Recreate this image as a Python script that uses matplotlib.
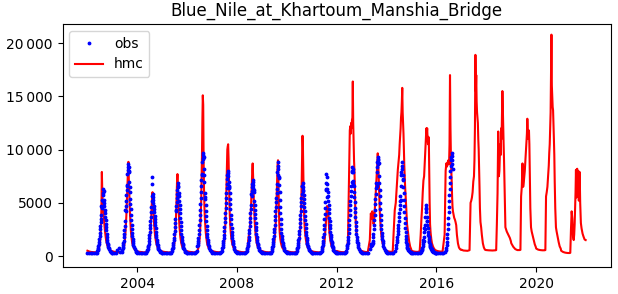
import numpy as np
import matplotlib
matplotlib.use("Agg")
import matplotlib.pyplot as plt
from matplotlib.ticker import FuncFormatter

nan = np.nan

# ---------------- data (discharge, m3/s) ----------------
# hmc simulated flow, sampled on these days of year
hmc_doy = [1, 30, 60, 90, 120, 135, 145, 155, 165, 175, 185, 192, 199, 206, 212, 218,
           224, 230, 236, 242, 248, 254, 260, 266, 272, 280, 290, 300, 315, 330, 345, 360]
hmc_years = list(range(2002, 2022))
hmc_2002 = [500, 420, 380, 360, 350, 380, 420, 500, 650, 900, 1300, 1800, 2600, 4500, 7900, 6200, 5000, 4500, 4000, 3500, 3000, 2600, 2200, 1900, 1600, 1300, 1050, 850, 650, 550, 500, 460]
hmc_2003 = [450, 400, 370, 350, 360, 400, 450, 550, 700, 1000, 1500, 2100, 2900, 3800, 4800, 5800, 7000, 8200, 8850, 7200, 6000, 4800, 3800, 3000, 2400, 1800, 1300, 1000, 750, 600, 520, 480]
hmc_2004 = [450, 400, 370, 350, 350, 380, 430, 520, 700, 950, 1400, 2000, 2800, 3800, 4800, 5600, 6000, 5200, 4300, 3500, 2900, 2400, 2000, 1700, 1450, 1200, 950, 800, 650, 550, 500, 460]
hmc_2005 = [430, 390, 360, 340, 340, 370, 420, 520, 700, 1000, 1500, 2200, 3100, 4300, 5800, 7000, 7700, 6400, 5200, 4200, 3400, 2700, 2200, 1800, 1500, 1200, 950, 800, 650, 560, 500, 470]
hmc_2006 = [460, 400, 370, 350, 360, 400, 460, 560, 750, 1100, 1700, 2500, 3600, 5000, 7000, 9500, 12800, 15100, 14200, 9000, 6200, 4600, 3600, 2900, 2300, 1800, 1300, 1000, 760, 620, 540, 500]
hmc_2007 = [480, 420, 380, 360, 360, 400, 460, 560, 760, 1100, 1700, 2500, 3600, 5000, 6800, 8500, 10000, 10300, 10500, 9200, 7000, 5200, 3900, 3000, 2400, 1800, 1350, 1050, 780, 640, 550, 500]
hmc_2008 = [480, 420, 380, 360, 360, 400, 460, 600, 1500, 2000, 2400, 2900, 3600, 4600, 5800, 7000, 8000, 8700, 7600, 6200, 5000, 4000, 3200, 2600, 2100, 1600, 1200, 950, 720, 600, 530, 490]
hmc_2009 = [470, 410, 370, 350, 350, 390, 440, 540, 720, 1000, 1400, 1900, 2600, 3500, 4600, 6000, 7500, 8600, 9000, 7200, 4800, 3200, 2300, 1800, 1500, 1200, 950, 780, 640, 550, 500, 460]
hmc_2010 = [470, 410, 370, 350, 350, 390, 440, 540, 720, 1000, 1400, 2000, 2800, 3800, 5200, 7000, 9500, 11300, 10200, 7400, 5200, 3800, 2900, 2300, 1900, 1500, 1150, 900, 700, 580, 510, 470]
hmc_2011 = [460, 400, 370, 350, 350, 380, 430, 520, 680, 900, 1250, 1700, 2300, 3000, 3700, 4300, 4700, 4400, 4600, 3900, 3200, 2600, 2100, 1750, 1450, 1200, 950, 780, 640, 540, 490, 460]
hmc_2012 = [480, 420, 380, 360, 370, 400, 500, 800, 1500, 5000, 9000, 11800, 12200, 11500, 12500, 12000, 12800, 13000, 16400, 12500, 10500, 9000, 8000, 6500, 4500, 3000, 2200, 1600, 1000, 700, 560, 500]
hmc_2013 = [480, 420, 380, 370, 1500, 4000, 3500, 4200, 3800, 3000, 3500, 4200, 5000, 5800, 6500, 7300, 8000, 8800, 9650, 9000, 7800, 6500, 5200, 4200, 3400, 2600, 1900, 1400, 1000, 750, 600, 520]
hmc_2014 = [500, 430, 400, 400, 4300, 5000, 6000, 7000, 8100, 8800, 9500, 10500, 11200, 12000, 13000, 13500, 14500, 15800, 13500, 12500, 11500, 10000, 8500, 7500, 6500, 5600, 4200, 3000, 2200, 1400, 900, 650]
hmc_2015 = [500, 430, 400, 390, 450, 2000, 3400, 4500, 6000, 7100, 7500, 8500, 9500, 10500, 11500, 12000, 11500, 12000, 11000, 10500, 11200, 10900, 8000, 5000, 3000, 2200, 1600, 1200, 900, 700, 580, 520]
hmc_2016 = [500, 450, 420, 420, 2000, 8000, 8700, 8400, 8800, 9000, 8600, 10500, 17000, 12000, 9500, 8000, 7000, 5500, 4600, 4200, 4000, 3800, 3600, 3500, 3400, 3200, 2900, 2000, 1200, 800, 650, 580]
hmc_2017 = [600, 520, 500, 490, 550, 5000, 5200, 5500, 6000, 7000, 7500, 9000, 12000, 18900, 15500, 17000, 14500, 13500, 13000, 12500, 11000, 10000, 8400, 6500, 4500, 3200, 2700, 2000, 1200, 800, 600, 560]
hmc_2018 = [560, 540, 530, 520, 530, 540, 560, 3000, 5900, 11700, 7500, 8000, 9500, 10500, 9500, 12000, 11000, 13500, 15500, 14000, 12000, 10500, 9000, 7000, 4500, 2700, 2500, 2300, 2100, 1900, 1700, 1400]
hmc_2019 = [1200, 870, 650, 560, 560, 580, 5600, 6500, 8700, 6500, 7000, 7500, 8000, 8800, 9500, 10000, 10800, 11500, 12900, 12000, 11000, 11500, 11800, 10500, 8000, 4500, 2700, 2300, 1900, 1500, 1100, 850]
hmc_2020 = [700, 600, 560, 540, 540, 560, 5600, 6000, 6500, 7500, 8500, 9700, 10500, 12000, 13500, 17000, 20800, 16000, 15000, 14000, 13700, 12500, 11000, 9500, 7000, 4500, 2700, 2300, 1800, 1300, 900, 700]
hmc_2021 = [500, 380, 320, 290, 280, 300, 2500, 4200, 3500, 1800, 1500, 2000, 3000, 4500, 6000, 8100, 5500, 7800, 8200, 6000, 7900, 8000, 5200, 7500, 7900, 5000, 3100, 2600, 2100, 1800, 1550, 1500]
hmc_rows = [hmc_2002, hmc_2003, hmc_2004, hmc_2005, hmc_2006, hmc_2007, hmc_2008,
            hmc_2009, hmc_2010, hmc_2011, hmc_2012, hmc_2013, hmc_2014, hmc_2015,
            hmc_2016, hmc_2017, hmc_2018, hmc_2019, hmc_2020, hmc_2021]

# observed flow, sampled on these days of year
obs_doy = [1, 25, 50, 75, 100, 120, 135, 143,
           150, 154, 158, 162, 166, 170, 174, 178, 182, 186, 190, 194, 198, 202, 206, 210,
           214, 218, 222, 226, 230, 234, 238, 242, 246, 250, 254, 258, 262, 266, 270, 274,
           278, 282, 286, 290, 294, 298, 302, 306, 310,
           318, 328, 340, 352, 362]
obs_years = list(range(2002, 2017))
obs_2002 = [300, 280, 260, 250, 240, 250, 330, 450,
            600, 700, 800, 950, 1100, 1350, 1600, 1900, 2200, 2500, 2800, 3200, 3500, 3900, 4700, 4600, 4500, 5300, 5700, 5200, 6300, 5900, 6100, 5300, 5000, 4700, 4300, 4000, 3700, 3400, 3000, 2700, 2400, 2100, 1800, 1550, 1350, 1150, 1000, 870, 760,
            620, 480, 400, 350, 330]
obs_2003 = [320, 300, 280, 600, 800, 350, 380, 550,
            750, 880, 1000, 1200, 1450, 1750, 2100, 2450, 2850, 3300, 4300, 4200, 4700, 5200, 5700, 6200, 6700, 6600, 7700, 8100, 8400, 8600, 8400, 8000, 7900, 7000, 6500, 6000, 5400, 4900, 4400, 3900, 3400, 2950, 2550, 2200, 1900, 1600, 1400, 1200, 1050,
            850, 650, 500, 400, 350]
obs_2004 = [320, 300, 280, 260, 250, 260, 330, 450,
            600, 700, 820, 980, 1150, 1400, 1650, 1950, 2250, 2600, 2950, 3300, 3700, 4100, 4600, 5200, 7450, 6800, 5600, 5800, 5500, 5300, 5000, 4700, 4400, 4100, 3800, 3500, 3200, 2900, 2600, 2300, 2000, 1750, 1500, 1300, 1150, 1000, 880, 780, 700,
            580, 470, 400, 350, 320]
obs_2005 = [300, 280, 260, 250, 240, 250, 320, 450,
            630, 750, 870, 1030, 1220, 1460, 1740, 2050, 2370, 2730, 3080, 3480, 4300, 4270, 4660, 5060, 5450, 5850, 6240, 6850, 6600, 6500, 5700, 5900, 5600, 5200, 4800, 4400, 4000, 3600, 3200, 2800, 2450, 2100, 1800, 1550, 1350, 1150, 1000, 870, 770,
            620, 490, 400, 350, 320]
obs_2006 = [320, 300, 280, 260, 250, 260, 340, 500,
            900, 1060, 1230, 1450, 1730, 2060, 2450, 2900, 3350, 3850, 4350, 4900, 5450, 6000, 6600, 7150, 7700, 7600, 8800, 9250, 9700, 9500, 9150, 9300, 8150, 7600, 7000, 5500, 5900, 5350, 4800, 4250, 3750, 3250, 2800, 2400, 2050, 1800, 1550, 1350, 1170,
            950, 720, 550, 430, 370]
obs_2007 = [330, 310, 290, 270, 260, 270, 350, 500,
            740, 870, 1010, 1200, 1430, 1700, 2020, 2390, 2760, 3170, 3590, 4050, 4510, 4970, 5430, 5890, 6350, 6810, 7270, 7640, 8000, 7800, 7500, 6600, 6500, 7000, 6400, 5900, 5400, 4900, 4400, 3900, 3450, 3000, 2600, 2250, 1950, 1700, 1450, 1250, 1100,
            880, 670, 510, 410, 360]
obs_2008 = [330, 310, 290, 270, 260, 270, 350, 480,
            660, 780, 900, 1070, 1270, 1520, 1800, 2130, 2460, 2830, 3200, 3610, 4020, 4430, 4840, 5800, 5660, 6070, 6480, 6800, 7100, 6950, 6700, 6400, 6000, 6200, 5200, 4750, 4350, 3950, 3550, 3100, 2750, 2400, 2050, 1750, 1500, 1300, 1150, 1000, 880,
            720, 560, 450, 380, 340]
obs_2009 = [320, 300, 280, 260, 250, 260, 330, 480,
            700, 820, 950, 1120, 1330, 1580, 1880, 2220, 2570, 2950, 3340, 3760, 4190, 4620, 5050, 5480, 5910, 6340, 6770, 7900, 7650, 8200, 8850, 8500, 7300, 7400, 6700, 6000, 5300, 4650, 4050, 3500, 3000, 2550, 2150, 1850, 1600, 1380, 1200, 1050, 930,
            760, 580, 460, 380, 340]
obs_2010 = [320, 300, 280, 260, 250, 260, 330, 460,
            630, 750, 870, 1030, 1220, 1460, 1740, 2050, 2370, 2730, 3080, 3480, 3870, 4270, 4660, 5060, 5450, 5850, 6600, 6560, 6850, 6100, 6480, 6160, 5770, 5370, 4980, 4580, 4190, 3790, 3400, 3000, 2650, 2290, 1980, 1700, 1460, 1260, 1110, 950, 830,
            680, 530, 430, 370, 330]
obs_2011 = [300, 280, 270, 260, 250, 260, 340, 480,
            700, 840, 1000, 1200, 1450, 1750, 2100, 2500, 2950, 3450, 3950, 4500, 5050, 6300, 6250, 6900, 7700, 7400, 6300, 6800, 5500, 6000, 5600, 5200, 4800, 4400, 4000, 3600, 3250, 2900, 2600, 2300, 2000, 1750, 1550, 1350, 1200, 1050, 930, 830, 740,
            600, 480, 400, 350, 310]
obs_2012 = [320, 300, 280, 260, 250, 270, 360, 520,
            750, 900, 1050, 1250, 1500, 1800, 2150, 2550, 2950, 3400, 3850, 4300, 4750, 5200, 5650, 6100, 6550, 7000, 8000, 7900, 8400, 8200, 7900, 6800, 7050, 6550, 6050, 5550, 5050, 4550, 4100, 3650, 3200, 2800, 2450, 2100, 1800, 1550, 1350, 1180, 1030,
            820, 620, 480, 400, 350]
obs_2013 = [330, 310, 290, 270, 300, 700, 900, 1100,
            1100, 1050, 1100, 1250, 1450, 1750, 2100, 2500, 2900, 3350, 3850, 4350, 4850, 5350, 5850, 6350, 6850, 6600, 7850, 8350, 8800, 9100, 9300, 9000, 8600, 8700, 7500, 6900, 6250, 5600, 5000, 4400, 3850, 3350, 2900, 2500, 2150, 1850, 1600, 1400, 1220,
            950, 720, 560, 450, 380]
obs_2014 = [320, 300, 280, 270, 300, 500, 750, 1000,
            1300, 1550, 1800, 2050, 2350, 2650, 2950, 3300, 3650, 4000, 4400, 4800, 5200, 5650, 5300, 6600, 7900, 7600, 8200, 8850, 8500, 7200, 7600, 7100, 6500, 5900, 5300, 4700, 4150, 3600, 3100, 2650, 2250, 1900, 1600, 1350, 1150, 1000, 880, 780, 700,
            560, 450, 380, 340, 310]
obs_2015 = [300, 280, 260, 250, 250, 300, 400, 500,
            600, 700, 800, 950, 1100, 1300, 1500, 1750, 1400, 2300, 2600, 2900, 2500, 3700, 4100, 4500, 4800, 4400, 3300, 3700, 3300, 2900, 2600, 2300, 2000, 1800, 1600, 1450, 1300, 1150, 1050, 950, 870, 800, 740, 680, 620, 570, 530, 490, 450,
            400, 350, 310, 280, 260]
obs_2016 = [300, 280, 260, 250, 270, 400, 600, 800,
            1000, 1300, 1650, 2050, 2500, 3000, 3550, 4100, 4650, 5200, 5750, 6300, 6850, 7400, 7950, 8500, 9000, 9300, 9650, 9400, 9000, 8600, 8200,
            nan, nan, nan, nan, nan, nan, nan, nan, nan, nan, nan, nan, nan, nan, nan, nan, nan, nan,
            nan, nan, nan, nan, nan]
obs_rows = [obs_2002, obs_2003, obs_2004, obs_2005, obs_2006, obs_2007, obs_2008,
            obs_2009, obs_2010, obs_2011, obs_2012, obs_2013, obs_2014, obs_2015, obs_2016]

title = "Blue_Nile_at_Khartoum_Manshia_Bridge"
x_ticks = [2004, 2008, 2012, 2016, 2020]
y_ticks = [0, 5000, 10000, 15000, 20000]


# ---------------- assemble time axis (decimal years) ----------------
def series(years, doys, rows):
    t, v = [], []
    for yr, row in zip(years, rows):
        for d, val in zip(doys, row):
            t.append(yr + (d - 1) / 365.0)
            v.append(val)
    return np.array(t), np.array(v, dtype=float)


t_hmc, q_hmc = series(hmc_years, hmc_doy, hmc_rows)
t_obs, q_obs = series(obs_years, obs_doy, obs_rows)

# ---------------- plot ----------------
fig = plt.figure(figsize=(6.18, 2.94), dpi=100)
ax = fig.add_axes([62.5 / 618, 1 - 267 / 294, (611 - 62.5) / 618, (267 - 24) / 294])

ax.plot(t_obs, q_obs, linestyle="none", marker=".", markersize=3.5, color="blue",
        label="obs", zorder=3)
ax.plot(t_hmc, q_hmc, color="red", linewidth=1.5, label="hmc", zorder=2)

ax.set_xlim(2001.0, 2023.0)
ax.set_ylim(-1030, 21800)
ax.set_xticks(x_ticks)
ax.set_xticklabels([str(x) for x in x_ticks])
ax.set_yticks(y_ticks)


def fmt(v, pos):
    v = int(round(v))
    if abs(v) >= 10000:
        return f"{v:,}".replace(",", "\u2009")
    return str(v)


ax.yaxis.set_major_formatter(FuncFormatter(fmt))
ax.set_title(title, fontsize=12)
ax.legend(loc="upper left")

fig.savefig("out.png", dpi=100)
